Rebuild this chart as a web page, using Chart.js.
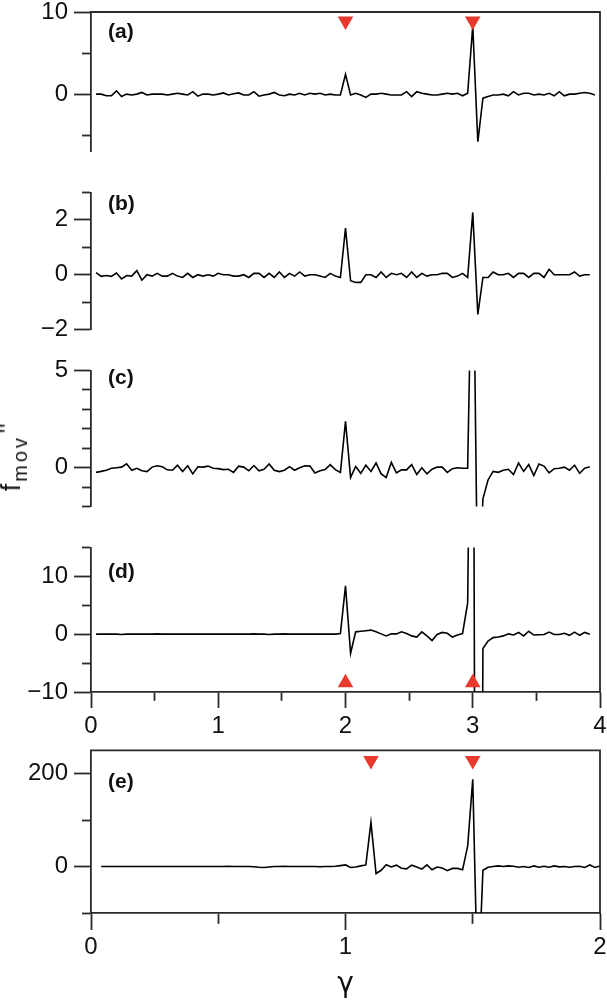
<!DOCTYPE html>
<html lang="en">
<head>
<meta charset="utf-8">
<title>f_mov'' versus gamma</title>
<script src="https://cdn.jsdelivr.net/npm/chart.js@4.4.1/dist/chart.umd.min.js"></script>
<style>
  html, body { margin: 0; padding: 0; background: #fff; }
  body { position: relative; width: 607px; height: 1003px; overflow: hidden; }
  canvas { position: absolute; left: 0; }
  #yTitle {
    position: absolute;
    left: 14px;
    top: 457px;
    transform: translate(-50%, -50%) rotate(-90deg);
    font: 27px "Liberation Sans", Arial, sans-serif;
    line-height: 28px;
    white-space: nowrap;
    color: #111;
  }
  #yTitle sub { font-size: 20px; vertical-align: -7px; letter-spacing: 3px; margin-left: 2px; }
  #yTitle .primes { font-size: 22px; vertical-align: 5px; margin-left: 2px; letter-spacing: 1px; }
</style>
</head>
<body>
<canvas id="panelA" width="620" height="182" style="top:-10px"></canvas>
<canvas id="panelB" width="620" height="178" style="top:172px"></canvas>
<canvas id="panelC" width="620" height="177" style="top:350px"></canvas>
<canvas id="panelD" width="620" height="218" style="top:527px"></canvas>
<canvas id="panelE" width="620" height="273" style="top:730px"></canvas>
<div id="yTitle">f<sub>mov</sub><span class="primes">''</span></div>
<script>
// sampling grid of gamma (regular steps)
const gammaAD = Array.from({ length: 99 }, (_, i) => Math.round((i + 1) * 4) / 100); // 0.04 .. 3.96
const gammaE = Array.from({ length: 99 }, (_, i) => Math.round((i + 2) * 2) / 100);  // 0.04 .. 2.00

// f_mov''
const fmovA = [
  0, 0, -0.2, -0.2, 0.4, -0.3, 0, -0.1, 0, 0.2,
  -0.1, 0, 0, 0, -0.1, 0, 0.1, 0, -0.1, 0.3,
  -0.25, 0, 0, -0.1, 0, 0.15, -0.1, 0.05, 0.15, -0.1,
  -0.1, 0.3, -0.25, -0.1, 0, 0.2, -0.1, -0.2, 0, -0.1,
  0.1, -0.1, 0.1, 0, 0.1, -0.1, 0, -0.1, -0.1, 2.4,
  -0.1, 0.1, -0.1, -0.4, 0, 0, 0.1, 0, -0.1, -0.1,
  -0.1, 0.3, -0.3, 0.3, 0.1, 0, -0.1, -0.1, 0, 0.1,
  0, 0.1, -0.2, 0.1, 8.3, -5.8, -0.5, -0.3, -0.1, -0.1,
  0, -0.2, 0.3, -0.1, 0.1, 0.1, -0.1, 0, -0.1, 0.1,
  -0.2, 0.3, -0.2, 0, 0, 0.1, 0.2, 0.1, -0.1
];
const fmovB = [
  0.08, -0.06, -0.03, -0.06, 0.06, -0.15, -0.03, -0.05, 0.15, -0.2,
  0, -0.05, 0.05, -0.05, -0.05, 0.05, -0.05, -0.1, 0.05, -0.1,
  0, -0.05, 0, -0.05, 0.05, 0, 0, -0.05, -0.05, 0,
  -0.1, 0.05, 0.05, -0.1, 0.05, -0.1, 0.1, -0.1, 0.05, -0.05,
  0.1, -0.05, 0, 0, -0.05, -0.1, 0.05, -0.05, -0.1, 1.7,
  -0.22, -0.28, -0.28, 0, 0, -0.1, 0.1, -0.1, 0.05, 0,
  0.05, -0.1, 0.1, -0.1, 0.05, -0.05, 0, 0, 0.05, 0.05,
  -0.1, -0.05, 0.05, -0.1, 2.27, -1.45, -0.1, -0.1, 0.1, 0,
  0, 0.05, -0.1, 0.05, 0.05, -0.1, 0.05, 0.05, -0.1, 0.2,
  0, 0, 0, 0, 0.1, -0.05, 0, 0
];
const fmovC = [
  -0.24, -0.19, -0.13, -0.03, 0, 0.03, 0.2, -0.13, -0.03, -0.16,
  -0.2, 0.03, 0.1, 0.05, -0.11, -0.13, 0.13, -0.2, 0.1, -0.32,
  0.05, 0.03, 0.08, -0.03, -0.05, -0.1, -0.08, -0.24, 0.08, 0.03,
  -0.16, 0.11, -0.16, -0.08, 0.19, -0.13, -0.2, -0.13, 0.05, -0.13,
  0, 0.1, 0.08, -0.27, -0.16, -0.1, 0.16, -0.1, -0.24, 2.38,
  -0.5, 0.06, -0.29, 0.13, -0.19, 0.24, -0.32, -0.5, 0.27, -0.27,
  -0.11, -0.11, 0.16, -0.35, 0, -0.32, -0.08, 0.03, 0.03, -0.24,
  -0.05, 0, -0.03, -0.03, 14, -7.5, -1.6, -0.63, -0.19, -0.24,
  -0.13, -0.08, -0.35, 0.24, -0.19, 0.16, -0.4, 0.19, 0.08, -0.27,
  -0.05, -0.03, 0.03, -0.13, 0.13, -0.29, -0.03, 0.05
];
const fmovD = [
  0, 0, 0, 0, 0, -0.05, 0, 0, 0, 0,
  0, 0, 0.05, 0, 0, 0, 0, 0, 0, 0,
  0, 0, 0, 0, 0, 0, 0, 0, 0, 0,
  0, 0.05, 0, 0, -0.05, 0, 0, 0.05, 0, 0,
  0, 0, 0, 0, 0, 0, 0, 0, 0.1, 8.35,
  -3.3, 0.4, 0.5, 0.6, 0.7, 0.4, 0.05, -0.3, 0.05, 0.05,
  0.4, 0.1, -0.3, -0.5, 0.4, -0.3, -1.1, -0.05, 0.3, 0.15,
  -0.5, -0.15, 0.1, 5.4, 82, -186, -2.5, -1.2, -0.6, -0.5,
  -0.3, 0.05, -0.15, 0.3, -0.3, 0.5, -0.15, -0.1, -0.05, 0.35,
  -0.05, -0.05, 0.15, -0.2, 0.35, -0.2, 0.3, 0
];
const fmovE = [
  0, 0, 0, 0, 0, 0, 0, 0, 0, 0,
  0, 0, 0, 0, 0, 0, 0, 0, 0, 0,
  0, 0, 0, 0, 0, 0.5, 0, 0, 0, 0,
  -0.5, -1.5, -2, -1, 0, 0, 0.5, 0, 0, 0,
  0, 0, 0, -0.5, 0, 0, 0.5, 2, 3.5, -2,
  -1, 1.4, 3.5, 95, -15, -8, 4, -1, 3, -3.5,
  -5, 3, -1, -5.6, 3.5, -7, -1, -3, -9, -4,
  -4, -7, 44, 188, -280, -8, -1.4, 0, 1.4, 0,
  1.4, 0.7, -1.4, 0, -2, 1.4, -1.4, 0.7, -1.4, 1.4,
  -0.7, 0, -1.4, 0, 0.7, -2, 3.5, -2, 1.4
];

// red triangle markers
const peakGammaAD = [2, 3];
const peakGammaE = [1.1, 1.5];
const markerLevelA = 8.9;
const markerLevelD = -8.4;
const markerLevelE = 228;

const inkColor = "#111111";
const frameColor = "#2a2a2a";
const markerRed = "#e8392c";
const frameWidth = 1.8;
const fontFamily = "'Liberation Sans', Arial, Helvetica, sans-serif";

Chart.defaults.font.family = fontFamily;
Chart.defaults.font.size = 24;
Chart.defaults.color = inkColor;
Chart.defaults.animation = false;

const panelDecor = {
  id: "panelDecor",
  afterDraw(chart, _args, opts) {
    const { ctx, chartArea } = chart;
    ctx.save();
    ctx.strokeStyle = frameColor;
    ctx.lineWidth = frameWidth;
    ctx.lineCap = "square";
    ctx.beginPath();
    const top = opts.rightFrom === "canvas" ? 0 : chartArea.top;
    const bottom = opts.rightTo === "canvas" ? chart.height : chartArea.bottom;
    ctx.moveTo(chartArea.right, top);
    ctx.lineTo(chartArea.right, bottom);
    if (opts.topLine) {
      ctx.moveTo(chartArea.left, chartArea.top);
      ctx.lineTo(chartArea.right, chartArea.top);
    }
    ctx.stroke();

    ctx.fillStyle = inkColor;
    ctx.font = `bold 21px ${fontFamily}`;
    ctx.textAlign = "left";
    ctx.textBaseline = "middle";
    ctx.fillText(opts.label, chartArea.left + 17, chartArea.top + opts.labelOffset);
    ctx.restore();
  }
};

function isMajor(value, major) {
  const r = value / major;
  return Math.abs(r - Math.round(r)) < 1e-6;
}

function tickText(value) {
  return value < 0 ? "\u2212" + Math.abs(value) : String(value);
}

function yAxis(min, max, step, major) {
  return {
    type: "linear",
    position: "left",
    min,
    max,
    border: { display: true, color: frameColor, width: frameWidth },
    grid: {
      drawOnChartArea: false,
      drawTicks: true,
      tickLength: 17,
      tickColor: frameColor,
      tickWidth: frameWidth,
      // minor ticks: only the 9px next to the axis line
      tickBorderDash: (c) => (isMajor(c.tick.value, major) ? [] : [30, 8]),
      tickBorderDashOffset: (c) => (isMajor(c.tick.value, major) ? 0 : 30)
    },
    ticks: {
      stepSize: step,
      autoSkip: false,
      includeBounds: false,
      padding: 6,
      callback: (v) => (isMajor(v, major) ? tickText(v) : "")
    },
    afterFit: (scale) => { scale.width = 91; }
  };
}

function xAxis(max, shown, tickLen, minorLen, labelPad, height, title) {
  return {
    type: "linear",
    position: "bottom",
    display: shown,
    min: 0,
    max,
    border: { display: true, color: frameColor, width: frameWidth },
    grid: {
      drawOnChartArea: false,
      tickLength: tickLen,
      tickColor: frameColor,
      tickWidth: frameWidth,
      tickBorderDash: (c) => (Number.isInteger(c.tick.value) ? [] : [minorLen, 40])
    },
    ticks: {
      stepSize: 0.5,
      autoSkip: false,
      maxRotation: 0,
      padding: labelPad,
      callback: (v) => (Number.isInteger(v) ? String(v) : "")
    },
    title: title
      ? { display: true, text: title, font: { size: 28, family: "'DejaVu Sans', sans-serif" }, padding: { top: 0, bottom: 1 } }
      : { display: false },
    afterFit: (scale) => { if (height) scale.height = height; }
  };
}

function traceDataset(xs, ys) {
  return {
    label: "f_mov''",
    data: ys.map((y, i) => ({ x: xs[i], y })),
    showLine: true,
    borderColor: "#000",
    borderWidth: 1.6,
    pointRadius: 0,
    tension: 0,
    order: 2
  };
}

function markerDataset(xs, level, pointingDown) {
  return {
    label: "markers",
    data: xs.map((x) => ({ x, y: level })),
    showLine: false,
    pointStyle: "triangle",
    pointRadius: 9,
    pointRotation: pointingDown ? 180 : 0,
    backgroundColor: markerRed,
    borderWidth: 0,
    pointBorderWidth: 0,
    order: 1
  };
}

function makePanel(id, cfg) {
  const datasets = [traceDataset(cfg.xs, cfg.ys)];
  if (cfg.markers) datasets.push(markerDataset(cfg.markers, cfg.markerLevel, cfg.markerDown));
  return new Chart(document.getElementById(id), {
    type: "scatter",
    data: { datasets },
    plugins: [panelDecor],
    options: {
      responsive: false,
      events: [],
      layout: { padding: { top: cfg.padTop, bottom: cfg.padBottom, left: 0, right: 20 } },
      scales: {
        x: cfg.x,
        y: cfg.y
      },
      plugins: {
        legend: { display: false },
        tooltip: { enabled: false },
        panelDecor: cfg.decor
      }
    }
  });
}

makePanel("panelA", {
  xs: gammaAD, ys: fmovA,
  markers: peakGammaAD, markerLevel: markerLevelA, markerDown: true,
  padTop: 22, padBottom: 15,
  x: xAxis(4, false),
  y: yAxis(-7, 10, 5, 10),
  decor: { label: "(a)", labelOffset: 20, topLine: true, rightFrom: "area", rightTo: "canvas" }
});

makePanel("panelB", {
  xs: gammaAD, ys: fmovB,
  padTop: 16, padBottom: 15,
  x: xAxis(4, false),
  y: yAxis(-2, 3, 1, 2),
  decor: { label: "(b)", labelOffset: 12, rightFrom: "canvas", rightTo: "canvas" }
});

makePanel("panelC", {
  xs: gammaAD, ys: fmovC,
  padTop: 15, padBottom: 15,
  x: xAxis(4, false),
  y: yAxis(-2, 5, 1, 5),
  decor: { label: "(c)", labelOffset: 8, rightFrom: "canvas", rightTo: "canvas" }
});

makePanel("panelD", {
  xs: gammaAD, ys: fmovD,
  markers: peakGammaAD, markerLevel: markerLevelD, markerDown: false,
  padTop: 17, padBottom: 0,
  x: xAxis(4, true, 16, 8, 3.5, 53),
  y: yAxis(-10, 15, 5, 10),
  decor: { label: "(d)", labelOffset: 25, rightFrom: "canvas", rightTo: "area" }
});

makePanel("panelE", {
  xs: gammaE, ys: fmovE,
  markers: peakGammaE, markerLevel: markerLevelE, markerDown: true,
  padTop: 17, padBottom: 0,
  x: xAxis(2, true, 17, 10, 3, 90, "\u03b3"),
  y: yAxis(-100, 250, 100, 200),
  decor: { label: "(e)", labelOffset: 32, topLine: true, rightFrom: "area", rightTo: "area" }
});
</script>
</body>
</html>
